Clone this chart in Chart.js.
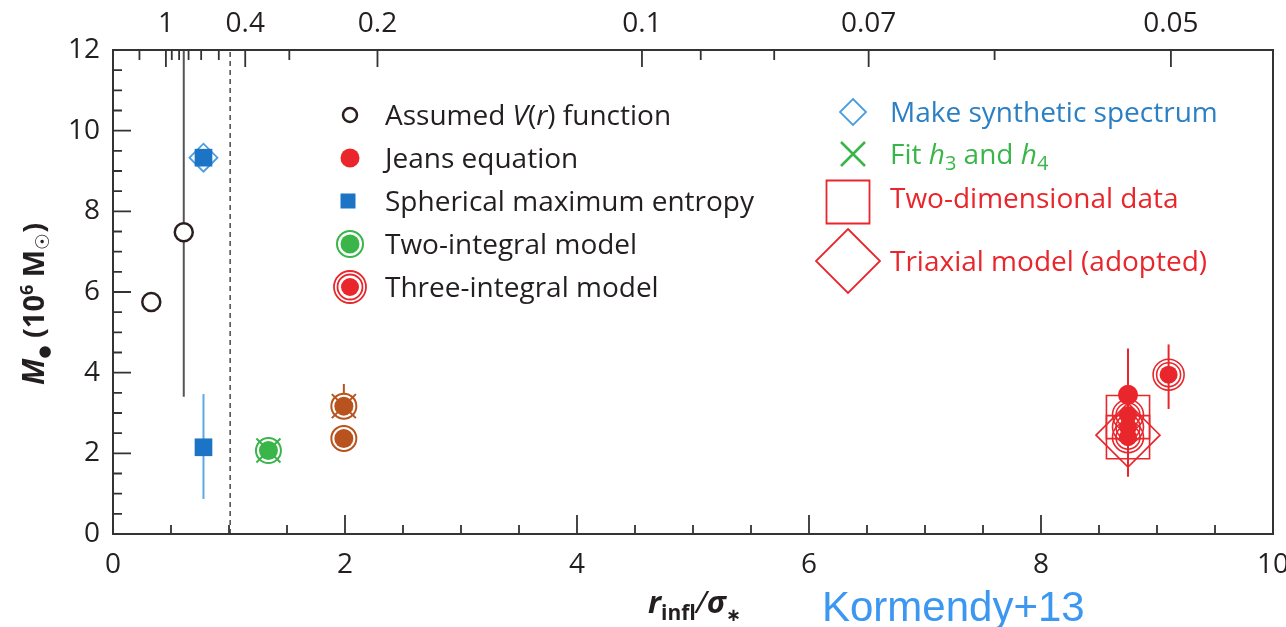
<!DOCTYPE html>
<html>
<head>
<meta charset="utf-8">
<script src="https://cdn.jsdelivr.net/npm/chart.js@4.4.0/dist/chart.umd.min.js"></script>
<style>
  html, body { margin: 0; padding: 0; background: #fff; }
</style>
</head>
<body>
<canvas id="massChart" width="1286" height="627"></canvas>
<script>
// top axis shows K / x
const K = 0.456
const topMajor = [1, 0.4, 0.2, 0.1, 0.07, 0.05]
const topMinor = [2, 0.9, 0.8, 0.7, 0.6, 0.5, 0.3, 0.09, 0.08, 0.06]

// data, x = r_infl / sigma_*, y = M_bh in 1e6 Msun
const assumedV = [{ x: 0.33, y: 5.75 }, { x: 0.61, y: 7.48 }]
const synthSpec = [{ x: 0.78, y: 9.33 }]
const sphMaxEnt = [{ x: 0.78, y: 9.33 }, { x: 0.78, y: 2.15 }]
const twoIntGreen = [{ x: 1.34, y: 2.07 }]
const fitH3H4Green = [{ x: 1.34, y: 2.07 }]
const twoIntBrown = [{ x: 1.99, y: 3.17 }, { x: 1.99, y: 2.37 }]
const fitH3H4Brown = [{ x: 1.99, y: 3.17 }]
const jeans = [{ x: 8.75, y: 3.45 }]
const threeInt = [{ x: 8.75, y: 2.95 }, { x: 8.75, y: 2.65 }, { x: 8.75, y: 2.4 }, { x: 9.1, y: 3.95 }]
const twoDim = [{ x: 8.75, y: 2.9 }, { x: 8.75, y: 2.4 }]
const triaxial = [{ x: 8.75, y: 2.45 }]
const sphereLine = [{ x: 1.01, y: 0 }, { x: 1.01, y: 12 }]

// error bars: x, low, high, colour
const errX = [0.61, 0.78, 1.99, 8.75, 9.1]
const errLo = [3.4, 0.87, 3.17, 1.42, 3.1]
const errHi = [12.3, 3.47, 3.72, 4.6, 4.7]
const errColor = ['#555555', '#5ba9e6', '#b8531f', '#e8262b', '#e8262b']

const RED = '#e8262b'
const BLUE = '#1b74c6'
const LBLUE = '#4a9ddf'
const GREEN = '#3ab54a'
const BROWN = '#b8531f'
const DARK = '#2a1e1e'

Chart.defaults.font.family = "'Open Sans', sans-serif"
Chart.defaults.color = '#222'

function isMajor(v) {
  return Math.abs(v / 2 - Math.round(v / 2)) < 1e-6
}

function marker(ctx, style, x, y, r, fill, stroke, lw) {
  ctx.save()
  ctx.beginPath()
  if (style === 'circle') {
    ctx.arc(x, y, r, 0, Math.PI * 2)
  } else if (style === 'rect') {
    ctx.rect(x - r, y - r, 2 * r, 2 * r)
  } else if (style === 'rectRot') {
    ctx.moveTo(x, y - r); ctx.lineTo(x + r, y); ctx.lineTo(x, y + r); ctx.lineTo(x - r, y); ctx.closePath()
  } else if (style === 'crossRot') {
    ctx.moveTo(x - r, y - r); ctx.lineTo(x + r, y + r)
    ctx.moveTo(x + r, y - r); ctx.lineTo(x - r, y + r)
  }
  if (fill) { ctx.fillStyle = fill; ctx.fill() }
  if (stroke) { ctx.strokeStyle = stroke; ctx.lineWidth = lw; ctx.stroke() }
  ctx.restore()
}

// draw a run of text pieces with their own fonts and offsets
function drawRich(ctx, parts, x, y, color) {
  let cx = x
  parts.forEach(p => {
    ctx.font = p.f
    ctx.fillStyle = p.c || color
    ctx.fillText(p.t, cx, y + (p.dy || 0))
    cx += ctx.measureText(p.t).width
  })
  return cx - x
}

function richWidth(ctx, parts) {
  let w = 0
  parts.forEach(p => { ctx.font = p.f; w += ctx.measureText(p.t).width })
  return w
}

const errorBars = {
  id: 'errorBars',
  beforeDatasetsDraw(chart) {
    const { ctx, chartArea: a, scales } = chart
    ctx.save()
    ctx.beginPath()
    ctx.rect(a.left, a.top, a.right - a.left, a.bottom - a.top)
    ctx.clip()
    errX.forEach((x, i) => {
      const px = scales.x.getPixelForValue(x)
      ctx.beginPath()
      ctx.moveTo(px, scales.y.getPixelForValue(errLo[i]))
      ctx.lineTo(px, scales.y.getPixelForValue(errHi[i]))
      ctx.strokeStyle = errColor[i]
      ctx.lineWidth = 2
      ctx.stroke()
    })
    ctx.restore()
  }
}

const frameAndLegend = {
  id: 'frameAndLegend',
  afterDraw(chart) {
    const { ctx, chartArea: a, scales } = chart
    ctx.save()
    ctx.strokeStyle = '#333'
    ctx.lineWidth = 2
    ctx.strokeRect(a.left, a.top, a.right - a.left, a.bottom - a.top)

    // inward tick marks
    ctx.lineWidth = 1.8
    ctx.beginPath()
    scales.x.ticks.forEach(t => {
      const px = scales.x.getPixelForValue(t.value)
      const len = isMajor(t.value) ? 19 : 9
      ctx.moveTo(px, a.bottom); ctx.lineTo(px, a.bottom - len)
    })
    scales.y.ticks.forEach(t => {
      const py = scales.y.getPixelForValue(t.value)
      const len = isMajor(t.value) ? 18 : 9
      ctx.moveTo(a.left, py); ctx.lineTo(a.left + len, py)
    })
    scales.x2.ticks.forEach(t => {
      const px = scales.x2.getPixelForValue(t.value)
      const len = t.lbl ? 17 : 10
      ctx.moveTo(px, a.top); ctx.lineTo(px, a.top + len)
    })
    ctx.stroke()

    // legend, left column
    ctx.textBaseline = 'alphabetic'
    const f = "28px 'Open Sans'"
    const fi = "italic 28px 'Open Sans'"
    const fs = "20px 'Open Sans'"
    const lx = 350, tx = 385
    marker(ctx, 'circle', lx, 115, 7, '#fff', DARK, 2.5)
    drawRich(ctx, [{ t: 'Assumed ', f }, { t: 'V', f: fi }, { t: '(', f }, { t: 'r', f: fi }, { t: ') function', f }], tx, 125, '#231f20')
    marker(ctx, 'circle', lx, 158, 9.5, RED)
    drawRich(ctx, [{ t: 'Jeans equation', f }], tx, 168, '#231f20')
    marker(ctx, 'rect', lx - 2, 201, 7.5, BLUE)
    drawRich(ctx, [{ t: 'Spherical maximum entropy', f }], tx, 211, '#231f20')
    marker(ctx, 'circle', lx, 244, 13, '#fff', GREEN, 2)
    marker(ctx, 'circle', lx, 244, 9.5, GREEN)
    drawRich(ctx, [{ t: 'Two-integral model', f }], tx, 254, '#231f20')
    marker(ctx, 'circle', lx, 287, 16, '#fff', RED, 1.8)
    marker(ctx, 'circle', lx, 287, 12.5, null, RED, 1.8)
    marker(ctx, 'circle', lx, 287, 9, RED)
    drawRich(ctx, [{ t: 'Three-integral model', f }], tx, 297, '#231f20')

    // legend, right column
    const rx = 848, rtx = 890
    marker(ctx, 'rectRot', rx + 5, 112, 13, null, LBLUE, 1.8)
    drawRich(ctx, [{ t: 'Make synthetic spectrum', f }], rtx, 122, '#2b7fc3')
    marker(ctx, 'crossRot', rx + 5, 154, 12, null, GREEN, 2.5)
    drawRich(ctx, [{ t: 'Fit ', f }, { t: 'h', f: fi }, { t: '3', f: fs, dy: 6 }, { t: ' and ', f }, { t: 'h', f: fi }, { t: '4', f: fs, dy: 6 }], rtx, 164, GREEN)
    marker(ctx, 'rect', rx, 202, 21.5, null, RED, 1.8)
    drawRich(ctx, [{ t: 'Two-dimensional data', f }], rtx, 208, RED)
    marker(ctx, 'rectRot', rx, 261, 32, null, RED, 1.8)
    drawRich(ctx, [{ t: 'Triaxial model (adopted)', f }], rtx, 271, RED)

    // y axis title, rotated
    const fb = "bold 29px 'Open Sans'"
    const yParts = [
      { t: 'M', f: "bold italic 30px 'Open Sans'" },
      { t: '\u25CF', f: "bold 15px 'DejaVu Sans'", dy: 5 },
      { t: ' (10', f: fb },
      { t: '6', f: "bold 18px 'Open Sans'", dy: -11 },
      { t: ' M', f: fb },
      { t: '\u2609', f: "bold 19px 'DejaVu Sans'", dy: 5 },
      { t: ')', f: fb }
    ]
    ctx.save()
    ctx.translate(44, 304)
    ctx.rotate(-Math.PI / 2)
    const yw = richWidth(ctx, yParts)
    drawRich(ctx, yParts, -yw / 2, 0, '#231f20')
    ctx.restore()

    // x axis title
    drawRich(ctx, [
      { t: 'r', f: "bold italic 31px 'Open Sans'" },
      { t: 'infl', f: "bold 21px 'Open Sans'", dy: 7 },
      { t: '/', f: "italic 31px 'Open Sans'" },
      { t: '\u03C3', f: "bold italic 31px 'Open Sans'" },
      { t: '\u2217', f: "bold 18px 'DejaVu Sans'", dy: 8 }
    ], 648, 613, '#231f20')

    ctx.font = "42px 'Liberation Sans'"
    ctx.fillStyle = '#3b97f0'
    ctx.fillText('Kormendy+13', 822, 621)
    ctx.restore()
  }
}

const topTicks = topMajor.map(v => ({ value: K / v, lbl: String(v) }))
  .concat(topMinor.map(v => ({ value: K / v, lbl: '' })))
  .sort((p, q) => p.value - q.value)

function pts(data, style, r, bg, border, bw, order) {
  return {
    data: data,
    pointStyle: style,
    pointRadius: r,
    pointHoverRadius: r,
    pointBackgroundColor: bg,
    pointBorderColor: border,
    pointBorderWidth: bw,
    showLine: false,
    order: order
  }
}

const NONE = 'rgba(0,0,0,0)'

new Chart(document.getElementById('massChart'), {
  type: 'scatter',
  data: {
    datasets: [
      {
        data: sphereLine, showLine: true, pointRadius: 0, borderColor: '#555',
        borderWidth: 1.6, borderDash: [5, 4], order: 30
      },
      pts(triaxial, 'rectRot', 32, NONE, RED, 1.6, 20),
      pts(twoDim, 'rect', 30.5, NONE, RED, 1.6, 19),
      pts(threeInt, 'circle', 15.5, NONE, RED, 1.6, 18),
      pts(threeInt, 'circle', 12, NONE, RED, 1.6, 17),
      pts(threeInt, 'circle', 9, RED, RED, 0, 16),
      pts(jeans, 'circle', 10, RED, RED, 0, 15),
      pts(synthSpec, 'rectRot', 14, NONE, LBLUE, 1.8, 14),
      pts(sphMaxEnt, 'rect', 12.5, BLUE, BLUE, 0, 13),
      pts(assumedV, 'circle', 9, '#fff', DARK, 2.5, 12),
      pts(twoIntGreen, 'circle', 12.5, '#fff', GREEN, 2, 11),
      pts(twoIntGreen, 'circle', 9.5, GREEN, GREEN, 0, 10),
      pts(fitH3H4Green, 'crossRot', 17, NONE, GREEN, 2, 9),
      pts(twoIntBrown, 'circle', 12.5, '#fff', BROWN, 2, 8),
      pts(twoIntBrown, 'circle', 9.5, BROWN, BROWN, 0, 7),
      pts(fitH3H4Brown, 'crossRot', 17, NONE, BROWN, 2, 6)
    ]
  },
  options: {
    responsive: false,
    animation: false,
    events: [],
    layout: { autoPadding: false, padding: { left: 0, right: 13, top: 0, bottom: 0 } },
    plugins: { legend: { display: false }, tooltip: { enabled: false } },
    scales: {
      x: {
        type: 'linear', position: 'bottom', min: 0, max: 10,
        grid: { display: false, drawTicks: false }, border: { display: false },
        ticks: {
          stepSize: 0.5, autoSkip: false, maxRotation: 0, padding: 14,
          font: { size: 28 }, color: '#231f20',
          callback: v => isMajor(v) ? String(v) : ''
        },
        afterFit: s => { s.height = 93; s.paddingLeft = 0; s.paddingRight = 0 }
      },
      x2: {
        type: 'linear', position: 'top', min: 0, max: 10,
        grid: { display: false, drawTicks: false }, border: { display: false },
        afterBuildTicks: s => { s.ticks = topTicks.map(t => ({ value: t.value, lbl: t.lbl })) },
        ticks: {
          autoSkip: false, maxRotation: 0, padding: 9,
          font: { size: 28 }, color: '#231f20',
          callback: (v, i, ticks) => ticks[i].lbl
        },
        afterFit: s => { s.height = 50; s.paddingLeft = 0; s.paddingRight = 0 }
      },
      y: {
        type: 'linear', min: 0, max: 12,
        grid: { display: false, drawTicks: false }, border: { display: false },
        ticks: {
          stepSize: 0.5, autoSkip: false, padding: 13,
          font: { size: 28 }, color: '#231f20',
          callback: v => isMajor(v) ? String(v) : ''
        },
        afterFit: s => { s.width = 113; s.paddingTop = 0; s.paddingBottom = 0 }
      }
    }
  },
  plugins: [errorBars, frameAndLegend]
})
</script>
</body>
</html>
